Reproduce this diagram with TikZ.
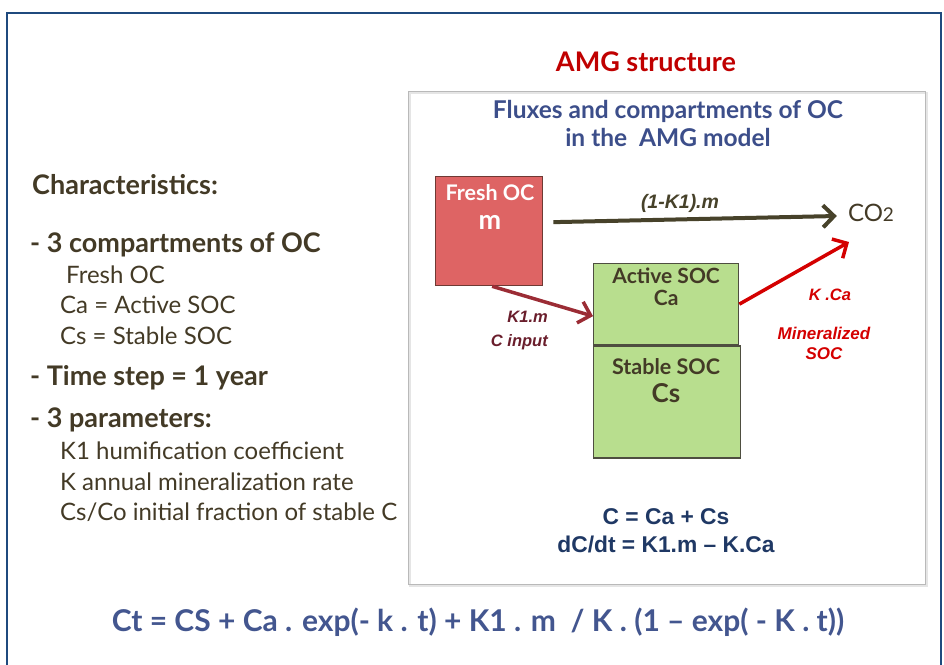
\documentclass[tikz,border=0pt]{standalone}
\usepackage{fontspec}
\setmainfont{Lato}
\newfontfamily\arialfont{Liberation Sans}
\usetikzlibrary{arrows.meta,positioning}
\definecolor{amgframe}{HTML}{1F4A7E}
\definecolor{amgred}{HTML}{C00000}
\definecolor{amgblue}{HTML}{3C4E8A}
\definecolor{amgtext}{HTML}{433A26}
\definecolor{freshfill}{HTML}{DE6464}
\definecolor{freshline}{HTML}{6E3A34}
\definecolor{socfill}{HTML}{B8DE8E}
\definecolor{socline}{HTML}{4E4E40}
\definecolor{fluxbrown}{HTML}{47422A}
\definecolor{inputred}{HTML}{9B2C35}
\definecolor{inputtext}{HTML}{6A1E2C}
\definecolor{mineral}{HTML}{D40000}
\definecolor{eqnavy}{HTML}{1F3864}
\definecolor{bigeq}{HTML}{43568F}

\begin{document}
\begin{tikzpicture}[x=1pt, y=-1pt,
    txt/.style={anchor=west, inner sep=0pt, text=amgtext, font=\fontsize{24}{28}\selectfont},
    head/.style={txt, font=\fontsize{27}{30}\selectfont\bfseries},
    box/.style={anchor=north west, inner sep=0pt, line width=1.3pt},
    boxtext/.style={inner sep=0pt, font=\fontsize{21}{22}\selectfont\bfseries, align=center},
    flux/.style={inner sep=0pt, font=\arialfont\fontsize{16.5}{20}\selectfont\bfseries\itshape},
    flow/.style={line width=4pt, -{Straight Barb[length=11pt,width=22pt]}}
  ]
    \useasboundingbox (0,0) rectangle (944,664);
    \draw[amgframe, line width=2.5pt] (7,670) -- (7,13) -- (941,13) -- (941,670);
    \node[inner sep=0pt, text=amgred, font=\fontsize{27}{30}\selectfont\bfseries] (title) at (646,62) {AMG structure};
    \draw[gray!20, line width=2pt] (410,93) rectangle (927,586);
    \node[box, draw=gray!55, line width=0.8pt, minimum width=517, minimum height=493] (frame) at (408,91) {};
    \node[inner sep=0pt, text=amgblue, align=center, font=\fontsize{24.5}{28}\selectfont\bfseries] (fluxes) at (668,123) {Fluxes and compartments of OC\\in the\ \ AMG model};
    % compartments
    \node[box, draw=freshline, fill=freshfill, minimum width=107, minimum height=109] (fresh) at (435,176) {};
    \node[boxtext, text=white, font=\fontsize{21.5}{24}\selectfont\bfseries] (freshlbl) at (490,193) {Fresh OC};
    \node[boxtext, text=white, font=\fontsize{27}{28}\selectfont\bfseries] (freshm) at (490,222) {m};
    \node[box, draw=socline, fill=socfill, minimum width=145, minimum height=81] (active) at (593,263) {};
    \node[box, draw=socline, fill=socfill, minimum width=147, minimum height=112, anchor=north west] (stable) at (active.south west) {};
    \node[boxtext, text=amgtext, below=5pt of active.north] (activelbl) {Active SOC\\Ca};
    \node[boxtext, text=amgtext, font=\fontsize{21.5}{24}\selectfont\bfseries] (stablelbl) at (666,367) {Stable SOC};
    \node[boxtext, text=amgtext, font=\fontsize{26}{28}\selectfont\bfseries] (stablecs) at (666,393) {Cs};
    \node[inner sep=0pt, text=amgtext, font=\fontsize{24}{28}\selectfont] (co2) at (871,213) {CO{\fontsize{19}{20}\selectfont 2}};
    % fluxes
    \draw[flow, draw=fluxbrown] ([xshift=10pt,yshift=9pt]fresh.east) -- ([xshift=-11pt,yshift=-3pt]co2.west);
    \draw[flow, draw=inputred, line width=3.5pt] ([xshift=3pt]fresh.south) -- ([yshift=-12pt]active.west);
    \draw[flow, draw=mineral, line width=3.5pt] (active.east) -- ([xshift=-22pt,yshift=-29pt]co2.center);
    \node[flux, text=fluxbrown, font=\arialfont\fontsize{19.5}{22}\selectfont\bfseries\itshape] (loss) at (680,203) {(1-K1).m};
    \node[flux, text=inputtext, anchor=east] (k1m) at (548,317) {K1.m};
    \node[flux, text=inputtext, anchor=east] (cinput) at (548,342) {C input};
    \node[flux, text=mineral] (kca) at (830,295) {K .Ca};
    \node[flux, text=mineral, align=center, font=\arialfont\fontsize{17}{20}\selectfont\bfseries\itshape] (minsoc) at (824,343) {Mineralized\\SOC};
    \node[inner sep=0pt, text=eqnavy, align=center, font=\arialfont\fontsize{22.8}{28}\selectfont\bfseries] (eqs) at (666,531) {C = Ca + Cs\\dC/dt = K1.m – K.Ca};
    % characteristics
    \node[head] (char) at (32,185) {Characteristics:};
    \node[head] (comp) at (30,245) {- 3 compartments of OC};
    \node[txt] (freshoc) at (66,275) {Fresh OC};
    \node[txt] (ca) at (60,305) {Ca = Active SOC};
    \node[txt] (cs) at (60,336) {Cs = Stable SOC};
    \node[head] (tstep) at (30,378) {- Time step = 1 year};
    \node[head] (params) at (30,420) {- 3 parameters:};
    \node[txt] (k1) at (60,451) {K1 humification coefficient};
    \node[txt] (k) at (60,482) {K annual mineralization rate};
    \node[txt] (csco) at (60,512) {Cs/Co initial fraction of stable C};
    \node[inner sep=0pt, text=bigeq, font=\fontsize{30}{32}\selectfont\bfseries] (ct) at (478,622) {Ct = CS + Ca . exp(- k . t) + K1 . m\ \ / K . (1 – exp( - K . t))};
  \end{tikzpicture}
\end{document}
